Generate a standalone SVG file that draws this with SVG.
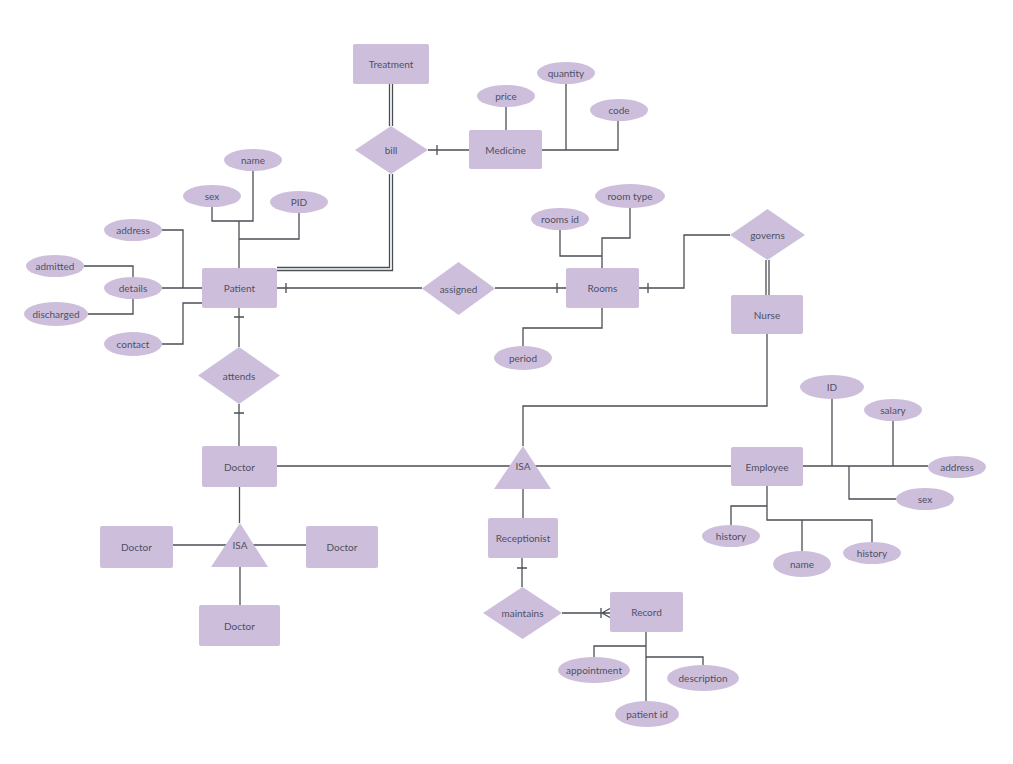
<svg xmlns="http://www.w3.org/2000/svg" width="1013" height="764" viewBox="0 0 1013 764">
<style>
.n{fill:#cdbfdc}
.t{font-family:Lato,"Open Sans",sans-serif;font-size:10px;fill:#4f4f62;text-anchor:middle;dominant-baseline:central}
.c{fill:none;stroke:#4a4f55;stroke-width:1.3}
</style>
<rect width="1013" height="764" fill="#ffffff"/>
<g id="connectors" class="c">
<path d="M389.5 84V126M392.5 84V126"/>
<path d="M389.5 174V267.5H277M392.5 174V270.5H277"/>
<path d="M428 150H469M437 145V155"/>
<path d="M506 107V130"/>
<path d="M566 84V150M542 150H618V121"/>
<path d="M212 207V221H253V171M239 221V268M299 213V239H239"/>
<path d="M162 230H183V288M162 288H202"/>
<path d="M84 266H133V277M88 314H133V299"/>
<path d="M162 344H183V303H202"/>
<path d="M277 288H422M286 283V293"/>
<path d="M495 288H566M557 283V293"/>
<path d="M560 230V256H602M630 208V238H602V268"/>
<path d="M523 347V328H602V308"/>
<path d="M639 288H684V235H730M648 283V293"/>
<path d="M766 260V295M769 260V295"/>
<path d="M767 334V406H523V446"/>
<path d="M239 308V347M234 317H244"/>
<path d="M239 404V446M234 413H244"/>
<path d="M277 466H731"/>
<path d="M523 489V518"/>
<path d="M522 558V587M517 568H527"/>
<path d="M562 613H610M601 608V618M602 613L610 608.5M602 613L610 617.5"/>
<path d="M594 657V646H646M646 632V701M703 665V657H646"/>
<path d="M803 466H928M832 399V466M893 421V466M896 499H849V466"/>
<path d="M731 525V506H767M767 486V520H872V542M802 520V551"/>
<path d="M239.5 487V523M173 545H306M240 567V605"/>
</g>
<g id="treatment"><rect class="n" x="353" y="44" width="76" height="40" rx="2"/><text class="t" x="391" y="64">Treatment</text></g>
<g id="bill"><polygon class="n" points="391,126 428,150 391,174 355,150"/><text class="t" x="391" y="150">bill</text></g>
<g id="medicine"><rect class="n" x="469" y="130" width="73" height="39" rx="2"/><text class="t" x="505.5" y="149.5">Medicine</text></g>
<g id="price"><ellipse class="n" cx="506" cy="96" rx="29" ry="11"/><text class="t" x="506" y="96">price</text></g>
<g id="quantity"><ellipse class="n" cx="566" cy="73" rx="29" ry="11"/><text class="t" x="566" y="73">quantity</text></g>
<g id="code"><ellipse class="n" cx="619" cy="110" rx="29" ry="11"/><text class="t" x="619" y="110">code</text></g>
<g id="patient"><rect class="n" x="202" y="268" width="75" height="40" rx="2"/><text class="t" x="239.5" y="288">Patient</text></g>
<g id="name"><ellipse class="n" cx="253" cy="160" rx="29" ry="11"/><text class="t" x="253" y="160">name</text></g>
<g id="sex"><ellipse class="n" cx="212" cy="196" rx="29" ry="11"/><text class="t" x="212" y="196">sex</text></g>
<g id="pid"><ellipse class="n" cx="299" cy="202" rx="29" ry="11"/><text class="t" x="299" y="202">PID</text></g>
<g id="address"><ellipse class="n" cx="133" cy="230" rx="29" ry="11"/><text class="t" x="133" y="230">address</text></g>
<g id="details"><ellipse class="n" cx="133" cy="288" rx="29" ry="11"/><text class="t" x="133" y="288">details</text></g>
<g id="admitted"><ellipse class="n" cx="55" cy="266" rx="29" ry="11"/><text class="t" x="55" y="266">admitted</text></g>
<g id="discharged"><ellipse class="n" cx="56" cy="314" rx="32" ry="12"/><text class="t" x="56" y="314">discharged</text></g>
<g id="contact"><ellipse class="n" cx="133" cy="344" rx="29" ry="12"/><text class="t" x="133" y="344">contact</text></g>
<g id="assigned"><polygon class="n" points="458.5,262 495,288.5 458.5,315 422,288.5"/><text class="t" x="458.5" y="288.5">assigned</text></g>
<g id="rooms"><rect class="n" x="566" y="268" width="73" height="40" rx="2"/><text class="t" x="602.5" y="288">Rooms</text></g>
<g id="roomsid"><ellipse class="n" cx="560" cy="219" rx="29" ry="11"/><text class="t" x="560" y="219">rooms id</text></g>
<g id="roomtype"><ellipse class="n" cx="630" cy="196" rx="35" ry="12"/><text class="t" x="630" y="196">room type</text></g>
<g id="period"><ellipse class="n" cx="523" cy="358" rx="29" ry="12"/><text class="t" x="523" y="358">period</text></g>
<g id="governs"><polygon class="n" points="767.5,209 805,235 767.5,260 730,235"/><text class="t" x="767.5" y="235">governs</text></g>
<g id="nurse"><rect class="n" x="731" y="295" width="72" height="39" rx="2"/><text class="t" x="767" y="315">Nurse</text></g>
<g id="attends"><polygon class="n" points="239,347 280,375.5 239,404 198,375.5"/><text class="t" x="239" y="375.5">attends</text></g>
<g id="doctor"><rect class="n" x="202" y="446" width="75" height="41" rx="2"/><text class="t" x="239.5" y="466.5">Doctor</text></g>
<g id="isa1"><polygon class="n" points="523,446 551,489 494,489"/><text class="t" x="523" y="466">ISA</text></g>
<g id="employee"><rect class="n" x="731" y="447" width="72" height="39" rx="2"/><text class="t" x="767" y="466.5">Employee</text></g>
<g id="id"><ellipse class="n" cx="832" cy="387" rx="32" ry="12"/><text class="t" x="832" y="387">ID</text></g>
<g id="salary"><ellipse class="n" cx="893" cy="410" rx="29" ry="11"/><text class="t" x="893" y="410">salary</text></g>
<g id="empaddress"><ellipse class="n" cx="957" cy="467" rx="29" ry="11"/><text class="t" x="957" y="467">address</text></g>
<g id="empsex"><ellipse class="n" cx="925" cy="499" rx="29" ry="11"/><text class="t" x="925" y="499">sex</text></g>
<g id="history1"><ellipse class="n" cx="731" cy="536" rx="29" ry="11"/><text class="t" x="731" y="536">history</text></g>
<g id="empname"><ellipse class="n" cx="802" cy="564" rx="29" ry="13"/><text class="t" x="802" y="564">name</text></g>
<g id="history2"><ellipse class="n" cx="872" cy="553" rx="29" ry="11"/><text class="t" x="872" y="553">history</text></g>
<g id="receptionist"><rect class="n" x="488" y="518" width="70" height="40" rx="2"/><text class="t" x="523" y="538">Receptionist</text></g>
<g id="maintains"><polygon class="n" points="522.5,587 562,613 522.5,639 483,613"/><text class="t" x="522.5" y="613">maintains</text></g>
<g id="record"><rect class="n" x="610" y="592" width="73" height="40" rx="2"/><text class="t" x="646.5" y="612">Record</text></g>
<g id="appointment"><ellipse class="n" cx="594" cy="670" rx="36" ry="13"/><text class="t" x="594" y="670">appointment</text></g>
<g id="patientid"><ellipse class="n" cx="647" cy="714" rx="32" ry="13"/><text class="t" x="647" y="714">patient id</text></g>
<g id="description"><ellipse class="n" cx="703" cy="678" rx="36" ry="13"/><text class="t" x="703" y="678">description</text></g>
<g id="isa2"><polygon class="n" points="240,523 268,567 211,567"/><text class="t" x="240" y="545">ISA</text></g>
<g id="doctor-left"><rect class="n" x="100" y="526" width="73" height="42" rx="2"/><text class="t" x="136.5" y="547">Doctor</text></g>
<g id="doctor-right"><rect class="n" x="306" y="526" width="72" height="42" rx="2"/><text class="t" x="342" y="547">Doctor</text></g>
<g id="doctor-bottom"><rect class="n" x="199" y="605" width="81" height="41" rx="2"/><text class="t" x="239.5" y="625.5">Doctor</text></g>
</svg>
